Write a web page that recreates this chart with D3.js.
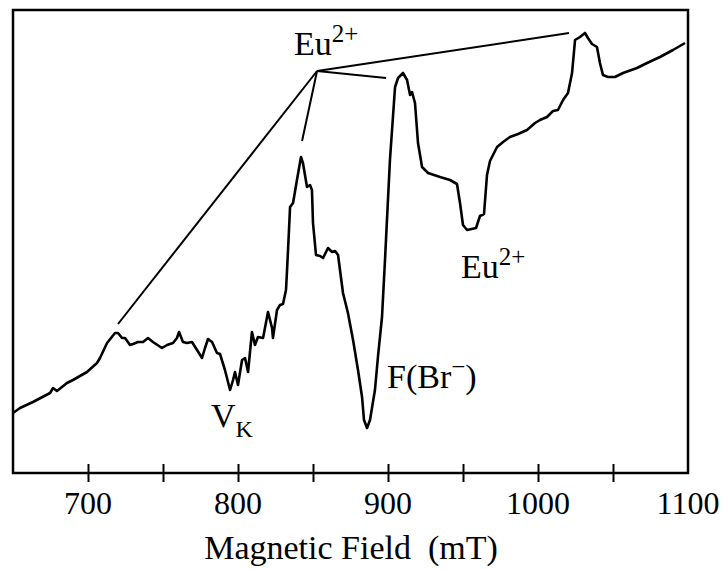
<!DOCTYPE html>
<html><head><meta charset="utf-8">
<script src="https://cdn.jsdelivr.net/npm/d3@7"></script>
<style>body{margin:0;background:#fff}svg{display:block}text{font-family:"Liberation Serif","Times New Roman",serif;fill:#000}</style>
</head><body><svg id="c" width="724" height="570"></svg>
<script>
// Magnetic field (mT)
const field = [650,654.7,663.3,674.7,676.7,679.3,686,690,699.3,706,708,712.7,718,720,722.7,724.7,728,730,733.3,736.7,740,743.3,749.3,752.7,756.7,759.3,760.7,763.3,766,769.3,772.7,776,778,780,782.7,786,788,791.3,794.7,796.7,798,800,802.7,804.7,806.7,809.3,811.3,813.3,816.7,820,822.7,823.3,826,828,830,832,832.7,834,834.7,836.7,839.3,842,843.3,846,848,849.3,850,852,854.7,856.7,860,862.7,864.7,866.7,868,870,873.3,876.7,880,882.7,884,886,888,891.3,893.3,896,898,901.3,904.7,906.7,910,912.7,914.7,916,918,920,922.7,926.7,934.7,941.3,946,948,950,952.7,958.7,961.3,964,966,968,972.7,976.7,981.3,986.7,992.7,998,1001.3,1006,1010,1013.3,1016.7,1020,1022.7,1024.7,1028,1031.3,1033.3,1036,1039.3,1041.3,1043.3,1046.7,1051.3,1056.7,1066,1072.7,1081.3,1090,1098];
// EPR signal (arbitrary units)
const signal = [60,65,71,80,85,82,90,93,101,110,115,130,140,140,135,135,128,129,131,131,135,131,125,128,130,135,141,131,130,131,123,115,125,134,131,120,119,103,83,93,101,88,113,115,101,141,128,136,135,161,145,135,163,168,169,183,203,243,266,270,293,316,310,286,288,283,250,218,217,215,225,221,222,218,203,180,160,133,103,76,53,45,53,83,116,156,213,313,386,395,400,393,378,381,370,330,306,300,296,293,289,270,248,243,245,257,259,298,312,326,331,336,339,343,350,353,356,362,363,373,380,400,433,436,440,435,429,426,410,398,396,396,400,405,410,416,423,430];
const xTicks = [700,750,800,850,900,950,1000,1050];
const xTickLabels = ["700","800","900","1000","1100"];
const xTickLabelValues = [700,800,900,1000,1100];
// annotation: hub and targets (field, signal)
const hub = [852.7, 402];
const pointers = [[720,149],[842.7,332],[898.7,395],[1020.7,440]];

const svg = d3.select("#c");
const L=13,R=688,T=10,B=473;
const x = d3.scaleLinear().domain([650,1100]).range([L,R]);
const y = d3.scaleLinear().domain([0,463]).range([B,T]);

// frame
svg.append("rect").attr("x",L).attr("y",T).attr("width",R-L).attr("height",B-T)
  .attr("fill","none").attr("stroke","#000").attr("stroke-width",2.5);

// ticks crossing the bottom axis
const ax = d3.axisBottom(x).tickValues(xTicks).tickSize(18).tickFormat("");
const g = svg.append("g").attr("transform",`translate(0,${B-9})`).call(ax);
g.select(".domain").remove();
g.selectAll(".tick line").attr("stroke","#000").attr("stroke-width",2);

svg.append("g").selectAll("text").data(xTickLabelValues).join("text")
  .attr("x",d=>x(d)).attr("y",514).attr("text-anchor","middle")
  .attr("font-size",32).text((d,i)=>xTickLabels[i]);

svg.append("text").attr("x",351).attr("y",559).attr("text-anchor","middle")
  .attr("font-size",34).attr("xml:space","preserve").text("Magnetic Field  (mT)");

// curve
const pts = field.map((f,i)=>[f,signal[i]]);
svg.append("path").datum(pts)
  .attr("d",d3.line().x(d=>x(d[0])).y(d=>y(d[1])).curve(d3.curveLinear))
  .attr("fill","none").attr("stroke","#000").attr("stroke-width",2.6).attr("stroke-linejoin","round");

// annotation lines
svg.append("g").selectAll("line").data(pointers).join("line")
  .attr("x1",x(hub[0])).attr("y1",y(hub[1]))
  .attr("x2",d=>x(d[0])).attr("y2",d=>y(d[1]))
  .attr("stroke","#000").attr("stroke-width",2);

// labels
function sup(sel, base, s, dy){
  sel.append("tspan").text(base);
  sel.append("tspan").attr("font-size",25).attr("dy",dy).text(s);
}
const t1 = svg.append("text").attr("x",294).attr("y",55).attr("font-size",34);
sup(t1,"Eu","2+",-13);
const t2 = svg.append("text").attr("x",461).attr("y",278).attr("font-size",34);
sup(t2,"Eu","2+",-13);
const t3 = svg.append("text").attr("x",387).attr("y",388).attr("font-size",34);
t3.append("tspan").text("F(Br");
t3.append("tspan").attr("font-size",25).attr("dy",-13).text("\u2212");
t3.append("tspan").attr("dy",13).text(")");
const t4 = svg.append("text").attr("x",211).attr("y",427).attr("font-size",34);
t4.append("tspan").text("V");
t4.append("tspan").attr("font-size",24).attr("dy",10).text("K");
</script></body></html>
